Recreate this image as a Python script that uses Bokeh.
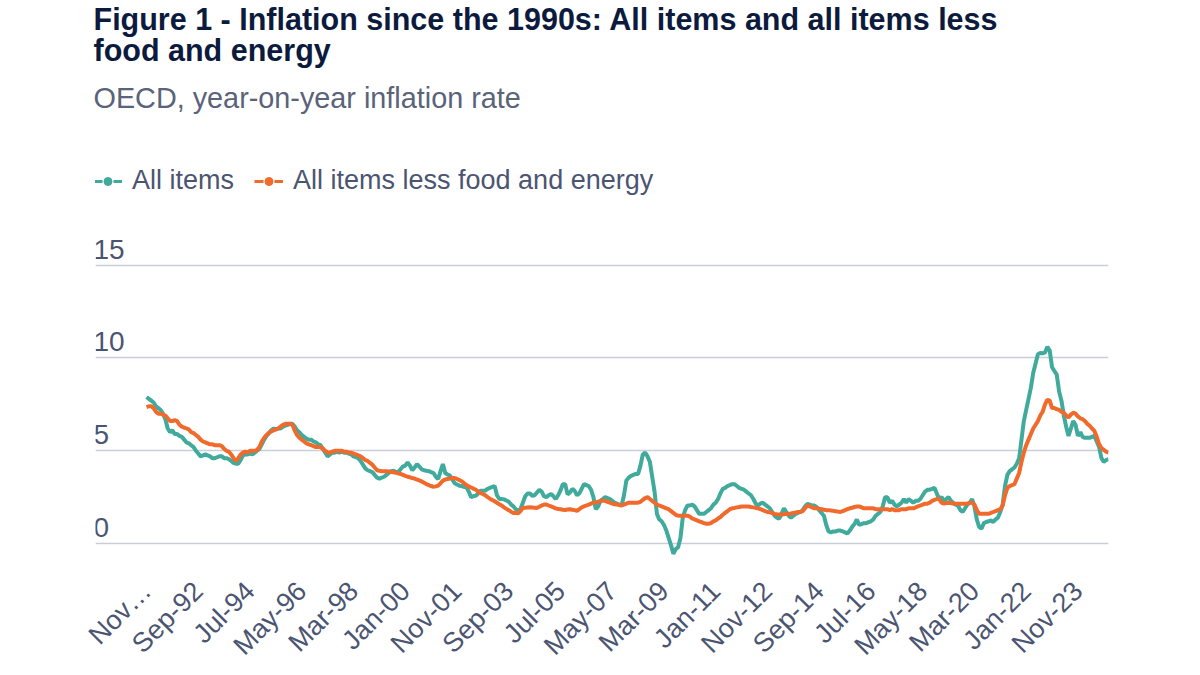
import numpy as np
import pandas as pd
from bokeh.plotting import figure
from bokeh.models import ColumnDataSource, FixedTicker, Legend, LegendItem, Title, Range1d
from bokeh.core.properties import value
from bokeh.embed import file_html
from bokeh.resources import INLINE

# Monthly, Nov-1990 .. Dec-2024, OECD year-on-year inflation (%)
all_items = [
    7.9, 7.8,                                                              # 1990 Nov-Dec
    7.7, 7.6, 7.4, 7.3, 7.2, 7.0, 6.7, 6.2, 6.0, 6.1, 5.9, 5.9,            # 1991
    5.8, 5.75, 5.6, 5.45, 5.4, 5.3, 5.2, 5.0, 4.85, 4.7, 4.75, 4.8,        # 1992
    4.75, 4.7, 4.6, 4.6, 4.65, 4.7, 4.7, 4.6, 4.6, 4.55, 4.45, 4.35,       # 1993
    4.3, 4.3, 4.5, 4.75, 4.8, 4.8, 4.85, 4.8, 4.9, 5.0, 5.1, 5.35,         # 1994
    5.6, 5.8, 5.95, 6.1, 6.2, 6.15, 6.2, 6.2, 6.3, 6.35, 6.4, 6.45,        # 1995
    6.45, 6.3, 6.1, 6.0, 5.85, 5.75, 5.65, 5.6, 5.6, 5.5, 5.45, 5.35,      # 1996
    5.3, 5.1, 4.9, 4.7, 4.8, 4.9, 4.9, 4.95, 4.9, 4.95, 4.9, 4.9,          # 1997
    4.85, 4.8, 4.7, 4.65, 4.6, 4.45, 4.25, 4.05, 3.95, 3.9, 3.85, 3.7,     # 1998
    3.55, 3.5, 3.55, 3.6, 3.7, 3.8, 3.9, 3.92, 3.85, 3.85, 4.0, 4.15,      # 1999
    4.2, 4.37, 4.2, 3.95, 4.1, 4.28, 4.15, 4.0, 3.95, 3.92, 3.9, 3.85,     # 2000
    3.8, 3.6, 3.48, 3.9, 4.28, 3.8, 3.72, 3.66, 3.45, 3.25, 3.18, 3.12,    # 2001
    3.1, 3.05, 3.03, 2.8, 2.5, 2.55, 2.58, 2.7, 2.85, 2.85, 2.85, 2.95,    # 2002
    3.0, 3.05, 3.1, 2.6, 2.4, 2.4, 2.38, 2.32, 2.25, 2.1, 2.0, 1.85,       # 2003
    1.77, 1.86, 2.2, 2.55, 2.7, 2.7, 2.58, 2.6, 2.75, 2.9, 2.8, 2.55,      # 2004
    2.5, 2.6, 2.67, 2.55, 2.4, 2.6, 2.86, 3.2, 3.2, 2.65, 2.75, 2.94,      # 2005
    2.85, 2.6, 2.7, 2.95, 3.2, 3.15, 3.1, 2.9, 2.5, 1.85, 2.0, 2.3,        # 2006
    2.4, 2.5, 2.45, 2.4, 2.3, 2.2, 2.15, 2.1, 2.05, 2.6, 3.4, 3.55,        # 2007
    3.65, 3.7, 3.75, 3.75, 4.2, 4.8, 4.9, 4.7, 4.4, 3.6, 2.8, 1.6,         # 2008
    1.3, 1.2, 1.0, 0.7, 0.3, -0.1, -0.55, -0.3, -0.2, 0.3, 1.4, 1.8,       # 2009
    2.05, 2.05, 2.1, 2.0, 1.8, 1.6, 1.6, 1.6, 1.7, 1.8, 1.9, 2.1,          # 2010
    2.2, 2.4, 2.7, 2.95, 3.0, 3.1, 3.15, 3.2, 3.2, 3.1, 3.0, 2.95,         # 2011
    2.9, 2.8, 2.7, 2.6, 2.4, 2.15, 2.05, 2.15, 2.2, 2.1, 2.0, 1.9,         # 2012
    1.7, 1.5, 1.4, 1.34, 1.6, 1.9, 1.7, 1.5, 1.4, 1.5, 1.6, 1.65,          # 2013
    1.7, 1.8, 2.0, 2.14, 2.1, 2.05, 2.05, 1.95, 1.8, 1.65, 1.5, 1.0,       # 2014
    0.65, 0.6, 0.65, 0.65, 0.7, 0.7, 0.65, 0.6, 0.54, 0.7, 0.9, 1.05,      # 2015
    1.3, 1.0, 1.05, 1.1, 1.1, 1.15, 1.2, 1.3, 1.5, 1.6, 1.7, 2.0,          # 2016
    2.5, 2.5, 2.2, 2.3, 2.1, 2.0, 2.1, 2.2, 2.4, 2.2, 2.4, 2.3,            # 2017
    2.2, 2.3, 2.3, 2.4, 2.6, 2.8, 2.9, 2.9, 2.95, 3.0, 2.7, 2.4,           # 2018
    2.5, 2.3, 2.4, 2.5, 2.3, 2.2, 2.1, 2.05, 1.8, 1.7, 1.9, 2.1,           # 2019
    2.2, 2.4, 2.0, 1.3, 0.9, 0.8, 1.1, 1.16, 1.2, 1.25, 1.16, 1.3,         # 2020
    1.4, 1.7, 2.1, 3.1, 3.7, 3.9, 4.0, 4.1, 4.3, 4.6, 5.6, 6.6,            # 2021
    7.2, 7.8, 8.4, 9.2, 9.7, 10.2, 10.27, 10.25, 10.3, 10.6, 10.4, 9.5,    # 2022
    9.3, 9.1, 8.2, 7.7, 6.9, 6.3, 5.8, 6.2, 6.6, 6.4, 5.8, 6.0,            # 2023
    5.75, 5.7, 5.7, 5.7, 5.75, 5.8, 5.5, 5.2, 4.6, 4.4, 4.5, 4.55,         # 2024
]

less_food_energy = [
    7.35, 7.4,                                                             # 1990 Nov-Dec
    7.4, 7.3, 7.1, 7.0, 7.0, 6.95, 6.9, 6.75, 6.6, 6.6, 6.65, 6.6,         # 1991
    6.4, 6.3, 6.25, 6.2, 6.15, 6.0, 5.95, 5.85, 5.75, 5.6, 5.5, 5.45,      # 1992
    5.4, 5.35, 5.35, 5.3, 5.3, 5.3, 5.25, 5.1, 5.0, 4.95, 4.8, 4.6,        # 1993
    4.45, 4.6, 4.8, 4.9, 4.95, 4.9, 5.0, 5.0, 5.0, 5.05, 5.2, 5.5,         # 1994
    5.7, 5.85, 5.95, 6.05, 6.1, 6.15, 6.2, 6.3, 6.4, 6.45, 6.45, 6.45,     # 1995
    6.4, 6.1, 5.85, 5.7, 5.6, 5.5, 5.4, 5.35, 5.3, 5.25, 5.2, 5.2,         # 1996
    5.2, 5.1, 5.0, 4.9, 4.9, 4.95, 5.0, 5.0, 5.0, 5.0, 4.95, 4.95,         # 1997
    4.9, 4.9, 4.85, 4.8, 4.75, 4.7, 4.6, 4.5, 4.45, 4.35, 4.25, 4.1,       # 1998
    3.95, 3.92, 3.9, 3.9, 3.9, 3.88, 3.86, 3.84, 3.82, 3.78, 3.75, 3.7,    # 1999
    3.65, 3.6, 3.57, 3.53, 3.5, 3.45, 3.4, 3.35, 3.28, 3.2, 3.15, 3.1,     # 2000
    3.06, 3.08, 3.12, 3.25, 3.39, 3.45, 3.48, 3.5, 3.53, 3.53, 3.48, 3.42, # 2001
    3.36, 3.25, 3.15, 3.08, 3.02, 2.96, 2.9, 2.8, 2.72, 2.67, 2.6, 2.5,    # 2002
    2.42, 2.35, 2.28, 2.2, 2.12, 2.05, 1.95, 1.87, 1.8, 1.72, 1.65, 1.64,  # 2003
    1.63, 1.75, 1.92, 1.93, 1.94, 1.95, 1.94, 1.93, 1.92, 1.98, 2.05, 2.1, # 2004
    2.1, 2.05, 2.0, 1.95, 1.9, 1.86, 1.85, 1.82, 1.81, 1.83, 1.85, 1.82,   # 2005
    1.8, 1.77, 1.85, 1.95, 2.0, 2.05, 2.1, 2.15, 2.2, 2.22, 2.25, 2.3,     # 2006
    2.3, 2.3, 2.25, 2.2, 2.15, 2.12, 2.1, 2.08, 2.05, 2.1, 2.15, 2.2,      # 2007
    2.2, 2.2, 2.2, 2.2, 2.25, 2.35, 2.45, 2.5, 2.4, 2.3, 2.2, 2.1,         # 2008
    2.05, 2.0, 1.95, 1.9, 1.85, 1.75, 1.65, 1.55, 1.5, 1.5, 1.5, 1.5,      # 2009
    1.5, 1.45, 1.35, 1.3, 1.25, 1.2, 1.15, 1.1, 1.07, 1.07, 1.1, 1.2,      # 2010
    1.25, 1.35, 1.43, 1.55, 1.65, 1.75, 1.85, 1.9, 1.92, 1.95, 1.97, 2.0,  # 2011
    2.0, 2.0, 2.0, 1.97, 1.95, 1.92, 1.9, 1.85, 1.8, 1.75, 1.7, 1.68,      # 2012
    1.65, 1.6, 1.58, 1.57, 1.57, 1.58, 1.6, 1.6, 1.62, 1.65, 1.67, 1.7,    # 2013
    1.7, 1.75, 1.9, 2.05, 2.0, 1.95, 1.9, 1.9, 1.88, 1.85, 1.82, 1.8,      # 2014
    1.8, 1.78, 1.76, 1.74, 1.72, 1.7, 1.75, 1.8, 1.85, 1.9, 1.93, 1.97,    # 2015
    2.0, 2.0, 1.95, 1.9, 1.9, 1.9, 1.9, 1.9, 1.85, 1.85, 1.85, 1.85,       # 2016
    1.85, 1.85, 1.8, 1.85, 1.8, 1.8, 1.8, 1.85, 1.85, 1.85, 1.9, 1.9,      # 2017
    1.9, 1.95, 2.0, 2.05, 2.1, 2.15, 2.15, 2.2, 2.3, 2.35, 2.4, 2.4,       # 2018
    2.2, 2.15, 2.18, 2.2, 2.18, 2.15, 2.15, 2.14, 2.14, 2.14, 2.14, 2.15,  # 2019
    2.2, 2.2, 2.1, 1.8, 1.6, 1.6, 1.6, 1.6, 1.6, 1.65, 1.7, 1.75,          # 2020
    1.8, 1.85, 2.05, 2.6, 3.0, 3.1, 3.15, 3.2, 3.5, 3.8, 4.4, 4.9,         # 2021
    5.3, 5.6, 5.9, 6.2, 6.4, 6.6, 6.9, 7.1, 7.5, 7.75, 7.7, 7.3,           # 2022
    7.3, 7.25, 7.2, 7.1, 7.05, 6.9, 6.8, 6.95, 7.05, 7.0, 6.85, 6.75,      # 2023
    6.7, 6.6, 6.45, 6.35, 6.2, 6.07, 5.75, 5.36, 5.15, 5.05, 4.95, 4.9,    # 2024
]

series_names = ["All items", "All items less food and energy"]
series_colors = ["#40AA9C", "#F2692C"]
y_ticks = [0, 5, 10, 15]
label_step = 22
first_month = "1990-11-01"

months = pd.date_range(first_month, periods=len(all_items), freq="MS")
month_labels = list(months.strftime("%b-%y"))
idx = list(range(len(all_items)))

src = ColumnDataSource(dict(x=idx, a=all_items, c=less_food_energy))

TEXT = "#4B5572"
FONT = "Liberation Sans"

# frame: left 95, right 1108, top 124, bottom 558; 18.6 px per unit, zero at y=543
p = figure(width=1200, height=675, output_backend="svg", toolbar_location=None,
           x_range=Range1d(-21.7, len(idx) - 1), y_range=Range1d(-0.806, 22.53),
           min_border_left=95, min_border_right=92, min_border_bottom=117,
           min_border_top=124, background_fill_color="white", border_fill_color="white")
p.outline_line_color = None
p.title = None

# titles (added innermost first)
p.add_layout(Title(text="OECD, year-on-year inflation rate", text_font=FONT,
                   text_font_size="28.8px", text_font_style="normal", text_color="#5A6379",
                   align="left", offset=-2, standoff=24), "above")
p.add_layout(Title(text="Figure 1 - Inflation since the 1990s: All items and all items less\nfood and energy",
                   text_font=FONT, text_font_size="30.5px", text_font_style="bold",
                   text_line_height=0.916, text_color="#0C1B3D", align="left", offset=-2,
                   standoff=0), "above")

# data lines
p.line("x", "a", source=src, line_color=series_colors[0], line_width=4)
p.line("x", "c", source=src, line_color=series_colors[1], line_width=4)

# legend glyphs (dash-dot-dash symbol); placeholder sources hold no visible point
items = []
for name, col in zip(series_names, series_colors):
    empty = ColumnDataSource(dict(x=[np.nan], y=[np.nan]))
    lr = p.line("x", "y", source=empty, line_color=col, line_width=3, line_dash="9 11")
    cr = p.scatter("x", "y", source=empty, marker="circle", size=5, fill_color=col, line_color=col)
    items.append(LegendItem(label=name, renderers=[lr, cr]))
leg = Legend(items=items, location=(-2, 362), orientation="horizontal",
             label_text_font=FONT, label_text_font_size="27px", label_text_color=TEXT,
             glyph_width=29, glyph_height=20, label_standoff=10, spacing=20,
             padding=0, margin=0, border_line_color=None, background_fill_alpha=0)
p.add_layout(leg, "center")

# axes
p.yaxis.visible = False
p.ygrid.ticker = FixedTicker(ticks=y_ticks)
p.ygrid.grid_line_color = "#C8CDD8"
p.ygrid.grid_line_width = 1.5
p.xgrid.visible = False

ytxt = ColumnDataSource(dict(x=[p.x_range.start] * len(y_ticks), y=y_ticks,
                             t=[str(v) for v in y_ticks]))
p.text("x", "y", text="t", source=ytxt, text_font=value(FONT), text_font_size="28px",
       text_color=TEXT, text_baseline="middle", text_align="left", y_offset=-16, x_offset=-2)

xt = list(range(0, len(idx), label_step))
overrides = {i: month_labels[i] for i in xt}
overrides[0] = "Nov\u2026"
p.xaxis.ticker = FixedTicker(ticks=xt)
p.xaxis.major_label_overrides = overrides
p.xaxis.major_label_orientation = np.pi / 4
p.xaxis.major_label_text_font = FONT
p.xaxis.major_label_text_font_size = "27px"
p.xaxis.major_label_text_color = TEXT
p.xaxis.major_label_standoff = 22
p.xaxis.axis_line_color = None
p.xaxis.major_tick_line_color = None
p.xaxis.minor_tick_line_color = None

open("out.html", "w").write(file_html(p, INLINE))
